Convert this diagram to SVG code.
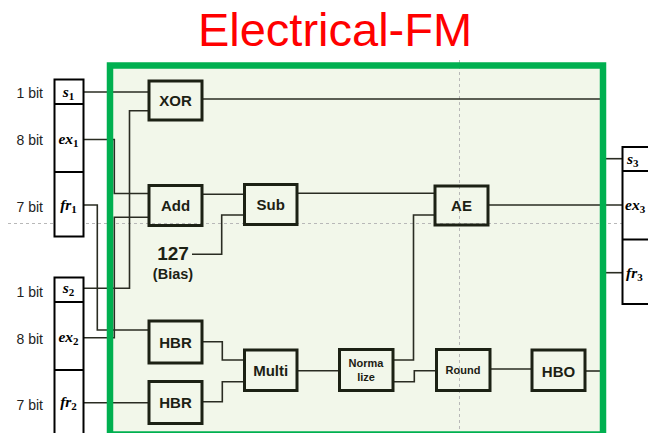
<svg xmlns="http://www.w3.org/2000/svg" width="648" height="433" viewBox="0 0 648 433">
<style>
.node rect{fill:none;stroke:#1c2114;stroke-width:3}
.node text{font-family:"Liberation Sans",Arial,sans-serif;font-weight:bold;font-size:15px;fill:#1c2114;text-anchor:middle}
.col rect{fill:#fff;stroke:#000;stroke-width:2}
.math{font-family:"Liberation Serif","Times New Roman",serif;font-style:italic;font-weight:bold;font-size:15.5px;fill:#000}
.sub{font-size:11px;font-style:normal}
.bit{font-family:"Liberation Sans",Arial,sans-serif;font-size:14px;fill:#222;text-anchor:end}
#connectors path{fill:none;stroke:#2a2c22;stroke-width:1.6}
.guide{stroke:#b8b8b8;stroke-width:1;stroke-dasharray:3 3;fill:none}
</style>
<rect width="648" height="433" fill="#fff"/>
<text x="335" y="45.5" font-family="Liberation Sans,Arial,sans-serif" font-size="47" fill="#ff0000" text-anchor="middle">Electrical-FM</text>
<rect id="frame-fill" x="110" y="65.5" width="493" height="369" fill="#f2f7ea"/>
<line class="guide" x1="8" y1="223.5" x2="648" y2="223.5"/>
<line class="guide" x1="459.5" y1="60" x2="459.5" y2="433"/>
<g id="connectors">
<path d="M83 92H149"/>
<path d="M202 99H601"/>
<path d="M83 139.5H114.3V193.5H149"/>
<path d="M83 337.7H114.3V217.3H149"/>
<path d="M83 205H97.3V330H149"/>
<path d="M83 288.3H129.5V110.7H149"/>
<path d="M192 254.3H221.7V215H244.5"/>
<path d="M202 194.3H244.5"/>
<path d="M297 193.3H435"/>
<path d="M393 360H413.5V215H435"/>
<path d="M488 205H622"/>
<path d="M600 158.7H622"/>
<path d="M600 272.7H622"/>
<path d="M202 341.7H222.3V360H244.5"/>
<path d="M202 401.7H222.3V381.7H244.5"/>
<path d="M83 402.7H149"/>
<path d="M297 370.7H339.5"/>
<path d="M393 381.7H414.3V370.7H436.5"/>
<path d="M490 369H532"/>
<path d="M585 371H601"/>
</g>
<rect id="frame" x="110" y="65.5" width="493" height="369" fill="none" stroke="#00b050" stroke-width="6.5"/>
<g id="input1" class="col">
<rect x="54.5" y="79.5" width="29" height="157"/>
<line x1="54.5" y1="104" x2="83.5" y2="104" stroke="#000" stroke-width="2"/>
<line x1="54.5" y1="172" x2="83.5" y2="172" stroke="#000" stroke-width="2"/>
<text class="math" x="68.5" y="97" text-anchor="middle">s<tspan class="sub" dy="3">1</tspan></text>
<text class="math" x="68.5" y="144" text-anchor="middle">ex<tspan class="sub" dy="3">1</tspan></text>
<text class="math" x="68.5" y="210" text-anchor="middle">fr<tspan class="sub" dy="3">1</tspan></text>
</g>
<g id="input2" class="col">
<rect x="54.5" y="277.5" width="29" height="165"/>
<line x1="54.5" y1="302" x2="83.5" y2="302" stroke="#000" stroke-width="2"/>
<line x1="54.5" y1="370" x2="83.5" y2="370" stroke="#000" stroke-width="2"/>
<text class="math" x="68.5" y="293" text-anchor="middle">s<tspan class="sub" dy="3">2</tspan></text>
<text class="math" x="68.5" y="342" text-anchor="middle">ex<tspan class="sub" dy="3">2</tspan></text>
<text class="math" x="68.5" y="407" text-anchor="middle">fr<tspan class="sub" dy="3">2</tspan></text>
</g>
<g id="bits">
<text class="bit" x="43" y="98">1 bit</text>
<text class="bit" x="43" y="145">8 bit</text>
<text class="bit" x="43" y="212">7 bit</text>
<text class="bit" x="43" y="297">1 bit</text>
<text class="bit" x="43" y="344">8 bit</text>
<text class="bit" x="43" y="410">7 bit</text>
</g>
<g id="output" class="col">
<rect x="622.5" y="147" width="40" height="157"/>
<line x1="622.5" y1="171" x2="648" y2="171" stroke="#000" stroke-width="2"/>
<line x1="622.5" y1="239.5" x2="648" y2="239.5" stroke="#000" stroke-width="2"/>
<text class="math" x="627" y="164">s<tspan class="sub" dy="3">3</tspan></text>
<text class="math" x="625" y="210">ex<tspan class="sub" dy="3">3</tspan></text>
<text class="math" x="626" y="278">fr<tspan class="sub" dy="3">3</tspan></text>
</g>
<g id="xor" class="node"><rect x="149" y="81" width="53" height="39"/><text x="175.5" y="106">XOR</text></g>
<g id="add" class="node"><rect x="149" y="185.5" width="53" height="40"/><text x="175.5" y="211">Add</text></g>
<g id="sub" class="node"><rect x="244.5" y="184.5" width="52.5" height="40"/><text x="270.7" y="210">Sub</text></g>
<g id="ae" class="node"><rect x="435" y="186" width="53" height="39"/><text x="461.5" y="211">AE</text></g>
<g id="hbr1" class="node"><rect x="149" y="321" width="53" height="42"/><text x="175.5" y="347.5">HBR</text></g>
<g id="hbr2" class="node"><rect x="149" y="381.5" width="53" height="42"/><text x="175.5" y="408">HBR</text></g>
<g id="multi" class="node"><rect x="244.5" y="350" width="52.5" height="40.5"/><text x="270.7" y="376">Multi</text></g>
<g id="normalize" class="node"><rect x="339.5" y="349.5" width="53.5" height="41"/><text x="366" y="367" style="font-size:11px">Norma</text><text x="366" y="381" style="font-size:11px">lize</text></g>
<g id="round" class="node"><rect x="436.5" y="349.5" width="53.5" height="41"/><text x="463" y="374" style="font-size:11px">Round</text></g>
<g id="hbo" class="node"><rect x="532" y="350" width="53" height="40.5"/><text x="558.5" y="376.5">HBO</text></g>
<g id="bias">
<text x="173" y="260" font-family="Liberation Sans,Arial,sans-serif" font-weight="bold" font-size="19" fill="#1c2114" text-anchor="middle">127</text>
<text x="173" y="279" font-family="Liberation Sans,Arial,sans-serif" font-weight="bold" font-size="14.5" fill="#1c2114" text-anchor="middle">(Bias)</text>
</g>
</svg>
